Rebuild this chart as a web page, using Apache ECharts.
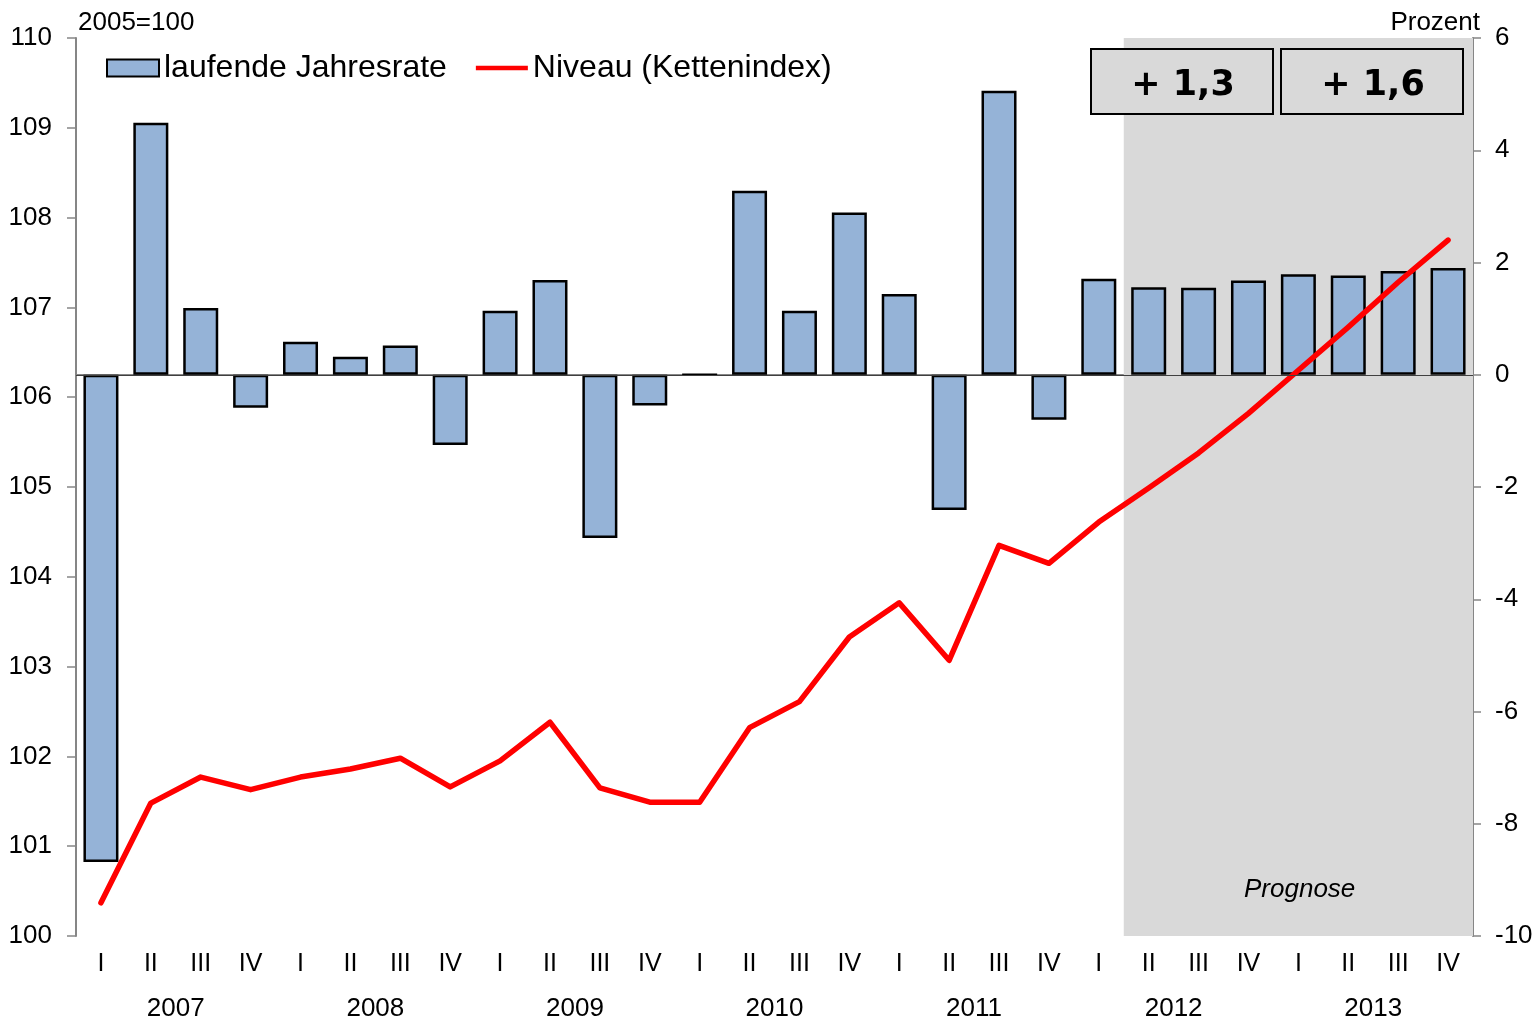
<!DOCTYPE html>
<html>
<head>
<meta charset="utf-8">
<script src="https://cdn.jsdelivr.net/npm/echarts@6/dist/echarts.min.js"></script>
<style>
  html, body { margin: 0; padding: 0; background: #fff; }
  #chart { width: 1537px; height: 1023px; }
</style>
</head>
<body>
<div id="chart"></div>
<script>
// Quarterly chart: running annual rate (bars, right axis) and chain index level (line, left axis)
const years = ['2007', '2008', '2009', '2010', '2011', '2012', '2013']
const quarters = ['I', 'II', 'III', 'IV']
const rateLabel = 'laufende Jahresrate'
const levelLabel = 'Niveau (Kettenindex)'

// laufende Jahresrate, Prozent
const rate = [-8.68, 4.49, 1.19, -0.59, 0.59, 0.32, 0.52, -1.25,
  1.14, 1.69, -2.91, -0.55, 0, 3.28, 1.14, 2.89,
  1.44, -2.41, 5.06, -0.80, 1.71, 1.56, 1.55, 1.68,
  1.79, 1.77, 1.85, 1.90]

// Niveau, 2005=100
const level = [100.37, 101.48, 101.77, 101.63, 101.77, 101.86, 101.98, 101.66,
  101.95, 102.38, 101.65, 101.49, 101.49, 102.32, 102.61, 103.33,
  103.71, 103.07, 104.35, 104.15, 104.61, 104.99, 105.38, 105.82,
  106.30, 106.78, 107.28, 107.75]

const forecastStart = 21 // 2012 II
const annualForecasts = ['+ 1,3', '+ 1,6']

const categories = years.flatMap(y => quarters.map(q => y + ' ' + q))

const FONT = '"Liberation Sans", Arial, sans-serif'
const BOX_FONT = '"DejaVu Sans", Verdana, sans-serif'
const AXIS = '#868686'

const chart = echarts.init(document.getElementById('chart'), null, { renderer: 'canvas' })

const box = (x, label) => ({
  type: 'group', left: x, top: 48, z: 100,
  children: [
    { type: 'rect', z: 100, shape: { x: 0, y: 0, width: 182, height: 65 },
      style: { fill: '#d9d9d9', stroke: '#000', lineWidth: 2 } },
    { type: 'text', z: 101, x: 92, y: 37,
      style: { text: label, font: 'bold 35px ' + BOX_FONT, fill: '#000', align: 'center', verticalAlign: 'middle' } },
  ],
})

chart.setOption({
  animation: false,
  textStyle: { fontFamily: FONT },
  grid: { left: 76, right: 64, top: 38, bottom: 87, containLabel: false },
  legend: {
    data: [
      { name: rateLabel, icon: 'rect' },
      { name: levelLabel, icon: 'path://M0,0 H55 V5 H0 Z' },
    ],
    symbolKeepAspect: true,
    left: 101, top: 47,
    itemWidth: 52, itemHeight: 17, itemGap: 29,
    textStyle: { fontSize: 32, color: '#000', fontFamily: FONT },
  },
  xAxis: [
    {
      type: 'category', data: categories, position: 'bottom',
      axisLine: { lineStyle: { color: AXIS, width: 2 } },
      axisTick: { interval: 0, length: 54, lineStyle: { color: AXIS, width: 1.5 } },
      axisLabel: { interval: 0, margin: 16, fontSize: 25, color: '#000', formatter: v => v.split(' ')[1] },
    },
    {
      type: 'category', data: years, position: 'bottom', offset: 0,
      axisLine: { show: false },
      axisTick: { interval: 0, length: 90, lineStyle: { color: AXIS, width: 1.5 } },
      axisLabel: { interval: 0, margin: 60, fontSize: 26, color: '#000' },
    },
    { type: 'value', min: 0, max: categories.length, show: false },
  ],
  yAxis: [
    {
      type: 'value', min: 100, max: 110, interval: 1, position: 'left',
      axisLine: { show: true, lineStyle: { color: AXIS, width: 2 } },
      axisTick: { show: true, length: 9, lineStyle: { color: AXIS, width: 1.5 } },
      axisLabel: { margin: 24, fontSize: 26, color: '#000' },
      splitLine: { show: false },
    },
    {
      type: 'value', min: -10, max: 6, interval: 2, position: 'right',
      axisLine: { show: true, lineStyle: { color: AXIS, width: 2 } },
      axisTick: { show: true, length: 8, lineStyle: { color: AXIS, width: 1.5 } },
      axisLabel: { margin: 22, fontSize: 26, color: '#000' },
      splitLine: { show: false },
    },
  ],
  series: [
    {
      name: 'Prognose', type: 'line', xAxisIndex: 2, yAxisIndex: 0, data: [], z: 0,
      markArea: {
        silent: true, itemStyle: { color: '#d9d9d9' },
        data: [[{ xAxis: forecastStart }, { xAxis: categories.length }]],
      },
    },
    {
      name: rateLabel, type: 'bar', xAxisIndex: 0, yAxisIndex: 1, data: rate,
      barWidth: 35, z: 2,
      itemStyle: { color: '#95b3d7', borderColor: '#000', borderWidth: 2.5 },
      markLine: {
        silent: true, symbol: 'none', label: { show: false },
        lineStyle: { color: '#404040', width: 1.2, type: 'solid' },
        data: [{ yAxis: 0 }],
      },
    },
    {
      name: levelLabel, type: 'line', xAxisIndex: 0, yAxisIndex: 0, data: level,
      symbol: 'none', z: 3,
      lineStyle: { color: '#ff0000', width: 5.5, cap: 'round', join: 'round' },
      itemStyle: { color: '#ff0000' },
    },
  ],
  graphic: [
    { type: 'text', left: 78, top: 10, style: { text: '2005=100', font: '26px ' + FONT, fill: '#000' } },
    { type: 'text', right: 57, top: 10, style: { text: 'Prozent', font: '26px ' + FONT, fill: '#000' } },
    { type: 'text', left: 1244, top: 877, z: 100, style: { text: 'Prognose', font: 'italic 26px ' + FONT, fill: '#000' } },
    box(1090, annualForecasts[0]),
    box(1280, annualForecasts[1]),
  ],
})
</script>
</body>
</html>
